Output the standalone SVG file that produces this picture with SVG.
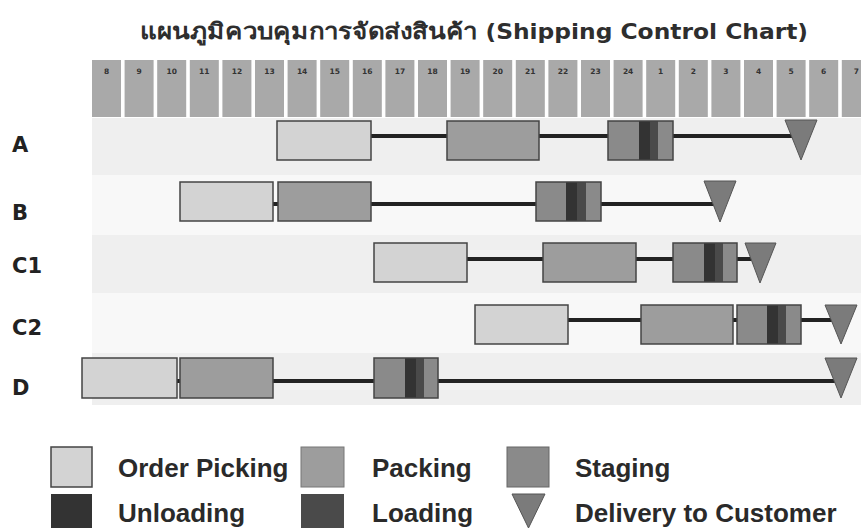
<svg xmlns="http://www.w3.org/2000/svg" width="861" height="528" viewBox="0 0 861 528">
<defs>
<style>
.title{font-family:"DejaVu Sans Condensed","DejaVu Sans","Noto Sans",sans-serif;font-weight:bold;font-size:22px;fill:#2e2e2e;}
.hdr{fill:#a9a9a9;}
.hl{font-family:"DejaVu Sans",sans-serif;font-weight:bold;font-size:7.5px;fill:#333;text-anchor:middle;}
.rl{font-family:"DejaVu Sans",sans-serif;font-weight:bold;font-size:21px;fill:#222;}
.lg{font-family:"Liberation Sans",Arial,sans-serif;font-weight:bold;font-size:26px;fill:#2a2a2a;}
.op{fill:#d3d3d3;stroke:#444;stroke-width:1.5;}
.pk{fill:#9d9d9d;stroke:#444;stroke-width:1.5;}
.st{fill:#8a8a8a;}
.un{fill:#333333;}
.lo{fill:#4a4a4a;}
.sto{fill:none;stroke:#444;stroke-width:1.5;}
.tri{fill:#7b7b7b;stroke:#555;stroke-width:1;}
.ln{stroke:#222;stroke-width:4;fill:none;}
.band{fill:#efefef;}
.band2{fill:#f8f8f8;}
</style>
</defs>
<rect width="861" height="528" fill="#ffffff"/>
<text class="title" x="140" y="39" textLength="668" lengthAdjust="spacingAndGlyphs">แผนภูมิควบคุมการจัดส่งสินค้า (Shipping Control Chart)</text>

<g id="backgrounds">
<rect class="band" x="92" y="118" width="769" height="57"/>
<rect class="band2" x="92" y="175" width="769" height="60"/>
<rect class="band" x="92" y="235" width="769" height="58"/>
<rect class="band2" x="92" y="293" width="769" height="60"/>
<rect class="band" x="92" y="353" width="769" height="52"/>
</g>

<g id="header">
<rect class="hdr" x="92" y="60" width="29" height="57"/><text class="hl" x="106.5" y="74">8</text>
<rect class="hdr" x="124.6" y="60" width="29" height="57"/><text class="hl" x="139.1" y="74">9</text>
<rect class="hdr" x="157.2" y="60" width="29" height="57"/><text class="hl" x="171.7" y="74">10</text>
<rect class="hdr" x="189.8" y="60" width="29" height="57"/><text class="hl" x="204.3" y="74">11</text>
<rect class="hdr" x="222.4" y="60" width="29" height="57"/><text class="hl" x="236.9" y="74">12</text>
<rect class="hdr" x="255" y="60" width="29" height="57"/><text class="hl" x="269.5" y="74">13</text>
<rect class="hdr" x="287.6" y="60" width="29" height="57"/><text class="hl" x="302.1" y="74">14</text>
<rect class="hdr" x="320.2" y="60" width="29" height="57"/><text class="hl" x="334.7" y="74">15</text>
<rect class="hdr" x="352.8" y="60" width="29" height="57"/><text class="hl" x="367.3" y="74">16</text>
<rect class="hdr" x="385.4" y="60" width="29" height="57"/><text class="hl" x="399.9" y="74">17</text>
<rect class="hdr" x="418" y="60" width="29" height="57"/><text class="hl" x="432.5" y="74">18</text>
<rect class="hdr" x="450.6" y="60" width="29" height="57"/><text class="hl" x="465.1" y="74">19</text>
<rect class="hdr" x="483.2" y="60" width="29" height="57"/><text class="hl" x="497.7" y="74">20</text>
<rect class="hdr" x="515.8" y="60" width="29" height="57"/><text class="hl" x="530.3" y="74">21</text>
<rect class="hdr" x="548.4" y="60" width="29" height="57"/><text class="hl" x="562.9" y="74">22</text>
<rect class="hdr" x="581" y="60" width="29" height="57"/><text class="hl" x="595.5" y="74">23</text>
<rect class="hdr" x="613.6" y="60" width="29" height="57"/><text class="hl" x="628.1" y="74">24</text>
<rect class="hdr" x="646.2" y="60" width="29" height="57"/><text class="hl" x="660.7" y="74">1</text>
<rect class="hdr" x="678.8" y="60" width="29" height="57"/><text class="hl" x="693.3" y="74">2</text>
<rect class="hdr" x="711.4" y="60" width="29" height="57"/><text class="hl" x="725.9" y="74">3</text>
<rect class="hdr" x="744" y="60" width="29" height="57"/><text class="hl" x="758.5" y="74">4</text>
<rect class="hdr" x="776.6" y="60" width="29" height="57"/><text class="hl" x="791.1" y="74">5</text>
<rect class="hdr" x="809.2" y="60" width="29" height="57"/><text class="hl" x="823.7" y="74">6</text>
<rect class="hdr" x="841.8" y="60" width="29" height="57"/><text class="hl" x="856.3" y="74">7</text>
</g>

<g id="labels">
<text class="rl" x="12" y="152">A</text>
<text class="rl" x="12" y="220">B</text>
<text class="rl" x="12" y="273">C1</text>
<text class="rl" x="12" y="335">C2</text>
<text class="rl" x="12" y="395">D</text>
</g>

<g id="connectors">
<path class="ln" d="M371 136H447M539 136H608M673 136H795"/>
<path class="ln" d="M273 204H278M371 204H536M601 204H714"/>
<path class="ln" d="M467 259H543M636 259H673M737 259H754"/>
<path class="ln" d="M568 320H641M733 320H737M801 320H835"/>
<path class="ln" d="M177 381H180M273 381H374M438 381H835"/>
</g>

<g id="A-picking"><rect class="op" x="277" y="121" width="94" height="39"/></g>
<g id="A-packing"><rect class="pk" x="447" y="121" width="92" height="39"/></g>
<g id="A-staging"><rect class="st" x="608" y="121" width="65" height="39"/><rect class="un" x="639" y="121" width="11" height="39"/><rect class="lo" x="650" y="121" width="8" height="39"/><rect class="sto" x="608" y="121" width="65" height="39"/></g>
<g id="A-delivery"><polygon class="tri" points="785,120 817,120 801,160"/></g>

<g id="B-picking"><rect class="op" x="180" y="182" width="93" height="39"/></g>
<g id="B-packing"><rect class="pk" x="278" y="182" width="93" height="39"/></g>
<g id="B-staging"><rect class="st" x="536" y="182" width="65" height="39"/><rect class="un" x="566" y="182" width="11" height="39"/><rect class="lo" x="577" y="182" width="9" height="39"/><rect class="sto" x="536" y="182" width="65" height="39"/></g>
<g id="B-delivery"><polygon class="tri" points="704,181 736,181 720,222"/></g>

<g id="C1-picking"><rect class="op" x="374" y="243" width="93" height="39"/></g>
<g id="C1-packing"><rect class="pk" x="543" y="243" width="93" height="39"/></g>
<g id="C1-staging"><rect class="st" x="673" y="243" width="64" height="39"/><rect class="un" x="704" y="243" width="11" height="39"/><rect class="lo" x="715" y="243" width="8" height="39"/><rect class="sto" x="673" y="243" width="64" height="39"/></g>
<g id="C1-delivery"><polygon class="tri" points="745,243 776,243 760,283"/></g>

<g id="C2-picking"><rect class="op" x="475" y="305" width="93" height="39"/></g>
<g id="C2-packing"><rect class="pk" x="641" y="305" width="92" height="39"/></g>
<g id="C2-staging"><rect class="st" x="737" y="305" width="64" height="39"/><rect class="un" x="767" y="305" width="11" height="39"/><rect class="lo" x="778" y="305" width="8" height="39"/><rect class="sto" x="737" y="305" width="64" height="39"/></g>
<g id="C2-delivery"><polygon class="tri" points="825,305 857,305 841,344"/></g>

<g id="D-picking"><rect class="op" x="82" y="358" width="95" height="40"/></g>
<g id="D-packing"><rect class="pk" x="180" y="358" width="93" height="40"/></g>
<g id="D-staging"><rect class="st" x="374" y="358" width="64" height="40"/><rect class="un" x="405" y="358" width="11" height="40"/><rect class="lo" x="416" y="358" width="8" height="40"/><rect class="sto" x="374" y="358" width="64" height="40"/></g>
<g id="D-delivery"><polygon class="tri" points="825,358 857,358 841,398"/></g>

<g id="legend">
<rect class="op" x="51" y="447" width="41" height="40"/>
<text class="lg" x="118" y="477">Order Picking</text>
<rect x="301" y="447" width="43" height="40" fill="#9d9d9d" stroke="#777" stroke-width="1"/>
<text class="lg" x="372" y="477">Packing</text>
<rect x="507" y="447" width="42" height="40" fill="#8a8a8a" stroke="#666" stroke-width="1"/>
<text class="lg" x="575" y="477">Staging</text>
<rect x="51" y="494" width="41" height="40" fill="#333333"/>
<text class="lg" x="118" y="522">Unloading</text>
<rect x="301" y="494" width="43" height="40" fill="#4a4a4a"/>
<text class="lg" x="372" y="522">Loading</text>
<polygon class="tri" points="512,494 545,494 528.5,528"/>
<text class="lg" x="575" y="522">Delivery to Customer</text>
</g>
</svg>
